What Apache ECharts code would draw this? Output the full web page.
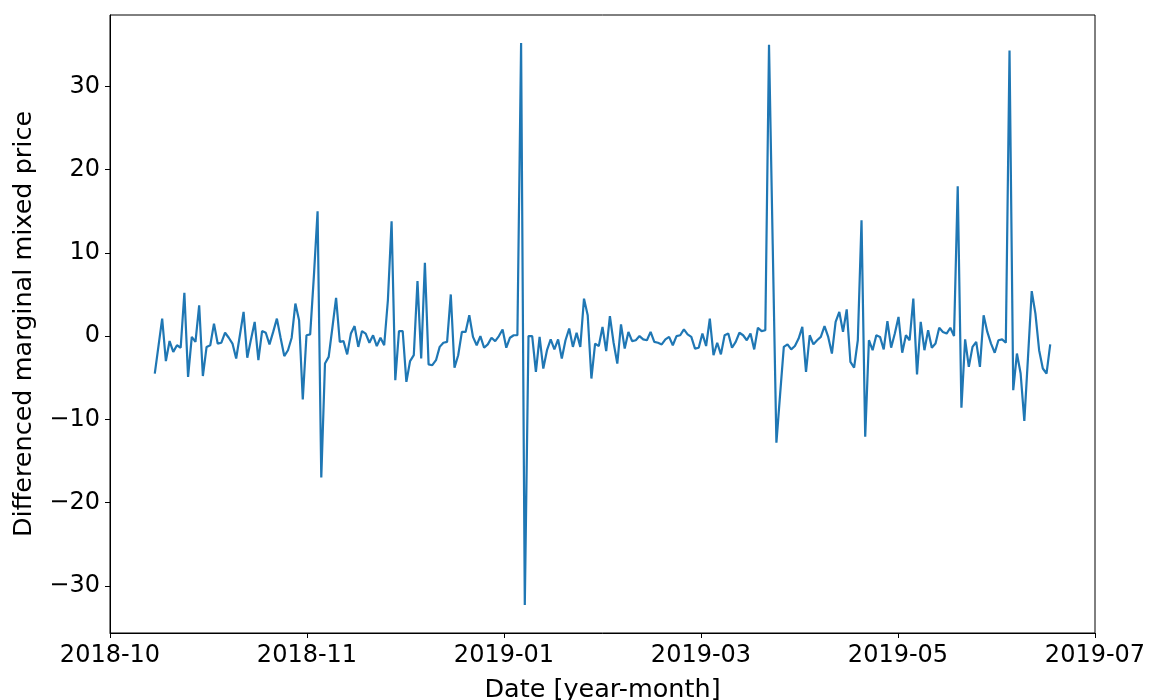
<!DOCTYPE html>
<html>
<head>
<meta charset="utf-8">
<title>Differenced marginal mixed price</title>
<script src="https://cdn.jsdelivr.net/npm/echarts@6/dist/echarts.min.js"></script>
<style>
  html, body { margin: 0; padding: 0; background: #ffffff; }
  #chart { width: 1149px; height: 700px; }
</style>
</head>
<body>
<div id="chart"></div>
<script>
// Tick labels along the date axis (evenly spaced across the axis range)
const xTickLabels = ['2018-10', '2018-11', '2019-01', '2019-03', '2019-05', '2019-07'];
const yTickValues = [-30, -20, -10, 0, 10, 20, 30];

// Day-to-day differenced marginal mixed price, one value per day
const diffPrice = [
  -4.5, -1.2, 2.1, -3.0, -0.6, -1.9, -1.1, -1.4, 5.2, -4.9,
  -0.1, -0.7, 3.7, -4.8, -1.3, -1.1, 1.5, -0.9, -0.8, 0.4,
  -0.2, -0.9, -2.7, 0.1, 2.9, -2.6, -0.4, 1.7, -2.9, 0.6,
  0.4, -1.0, 0.5, 2.1, -0.2, -2.4, -1.7, -0.2, 3.9, 1.9,
  -7.6, 0.1, 0.2, 7.2, 15.0, -17.0, -3.3, -2.5, 1.0, 4.6,
  -0.7, -0.6, -2.2, 0.3, 1.2, -1.3, 0.6, 0.3, -0.8, 0.1,
  -1.2, -0.2, -1.1, 4.3, 13.8, -5.3, 0.6, 0.6, -5.5, -3.0,
  -2.3, 6.6, -2.7, 8.8, -3.4, -3.5, -2.9, -1.3, -0.8, -0.7,
  5.0, -3.8, -2.3, 0.5, 0.5, 2.5, -0.1, -1.1, 0.0, -1.4,
  -1.0, -0.2, -0.6, 0.0, 0.8, -1.4, -0.2, 0.1, 0.1, 35.2,
  -32.3, 0.0, 0.0, -4.3, -0.1, -3.9, -1.7, -0.4, -1.6, -0.4,
  -2.7, -0.5, 0.9, -1.3, 0.4, -1.3, 4.5, 2.5, -5.1, -0.9,
  -1.2, 1.1, -1.8, 2.4, -0.8, -3.3, 1.4, -1.5, 0.5, -0.6,
  -0.5, 0.0, -0.4, -0.5, 0.5, -0.7, -0.8, -1.0, -0.4, -0.1,
  -1.1, 0.0, 0.1, 0.8, 0.2, -0.1, -1.5, -1.4, 0.3, -1.2,
  2.1, -2.3, -0.8, -2.2, 0.1, 0.3, -1.4, -0.7, 0.4, 0.1,
  -0.5, 0.3, -1.6, 1.0, 0.6, 0.7, 35.0, 11.0, -12.8, -7.0,
  -1.3, -1.0, -1.6, -1.2, -0.3, 1.1, -4.3, 0.1, -1.0, -0.5,
  -0.1, 1.2, -0.1, -2.1, 1.7, 2.9, 0.5, 3.2, -3.1, -3.8,
  -0.5, 13.9, -12.1, -0.5, -1.7, 0.1, -0.1, -1.6, 1.8, -1.4,
  0.3, 2.3, -2.0, 0.1, -0.5, 4.5, -4.6, 1.7, -1.7, 0.7,
  -1.4, -0.9, 1.0, 0.5, 0.3, 1.0, 0.0, 18.0, -8.6, -0.4,
  -3.7, -1.3, -0.7, -3.7, 2.5, 0.5, -0.9, -2.0, -0.5, -0.4,
  -0.8, 34.3, -6.5, -2.1, -4.5, -10.2, -2.5, 5.4, 2.7, -1.7,
  -3.9, -4.5, -1.0
];

// Axis extents: data range padded by 5% on each side
const lastDay = diffPrice.length - 1;
const xPad = lastDay * 0.05;
const xMin = -xPad;
const xMax = lastDay + xPad;
const xStep = (xMax - xMin) / (xTickLabels.length - 1);
const xTickPos = xTickLabels.map((_, k) => xMin + k * xStep);

const yDataMin = Math.min(...diffPrice);
const yDataMax = Math.max(...diffPrice);
const yPad = (yDataMax - yDataMin) * 0.05;

const FONT = 'DejaVu Sans';
const fmtY = v => (v < 0 ? '\u2212' + Math.abs(v) : String(v));

const chart = echarts.init(document.getElementById('chart'), null, { renderer: 'canvas' });
chart.setOption({
  animation: false,
  backgroundColor: '#ffffff',
  grid: {
    left: 110, right: 54, top: 15, bottom: 67,
    show: true, borderColor: '#000000', borderWidth: 1,
    containLabel: false,
    outerBoundsMode: 'none'
  },
  xAxis: {
    type: 'value',
    min: xMin,
    max: xMax,
    name: 'Date [year-month]',
    nameLocation: 'middle',
    nameGap: 44,
    nameTextStyle: { fontFamily: FONT, fontSize: 25.5, color: '#000' },
    axisLine: { show: true, onZero: false, lineStyle: { color: '#000', width: 1 } },
    axisTick: { show: true, length: 5, lineStyle: { color: '#000', width: 1 }, customValues: xTickPos },
    axisLabel: {
      customValues: xTickPos,
      margin: 11,
      fontFamily: FONT, fontSize: 24, color: '#000',
      formatter: v => xTickLabels[Math.round((v - xMin) / xStep)]
    },
    splitLine: { show: false }
  },
  yAxis: {
    type: 'value',
    min: yDataMin - yPad,
    max: yDataMax + yPad,
    name: 'Differenced marginal mixed price',
    nameLocation: 'middle',
    nameGap: 73,
    nameTextStyle: { fontFamily: FONT, fontSize: 25.5, color: '#000' },
    axisLine: { show: true, onZero: false, lineStyle: { color: '#000', width: 1 } },
    axisTick: { show: true, length: 5, lineStyle: { color: '#000', width: 1 }, customValues: yTickValues },
    axisLabel: {
      customValues: yTickValues,
      margin: 10,
      fontFamily: FONT, fontSize: 24, color: '#000',
      formatter: fmtY
    },
    splitLine: { show: false }
  },
  series: [{
    type: 'line',
    data: diffPrice.map((v, i) => [i, v]),
    showSymbol: false,
    symbol: 'none',
    lineStyle: { color: '#1f77b4', width: 2.2 },
    itemStyle: { color: '#1f77b4' }
  }]
});
</script>
</body>
</html>
